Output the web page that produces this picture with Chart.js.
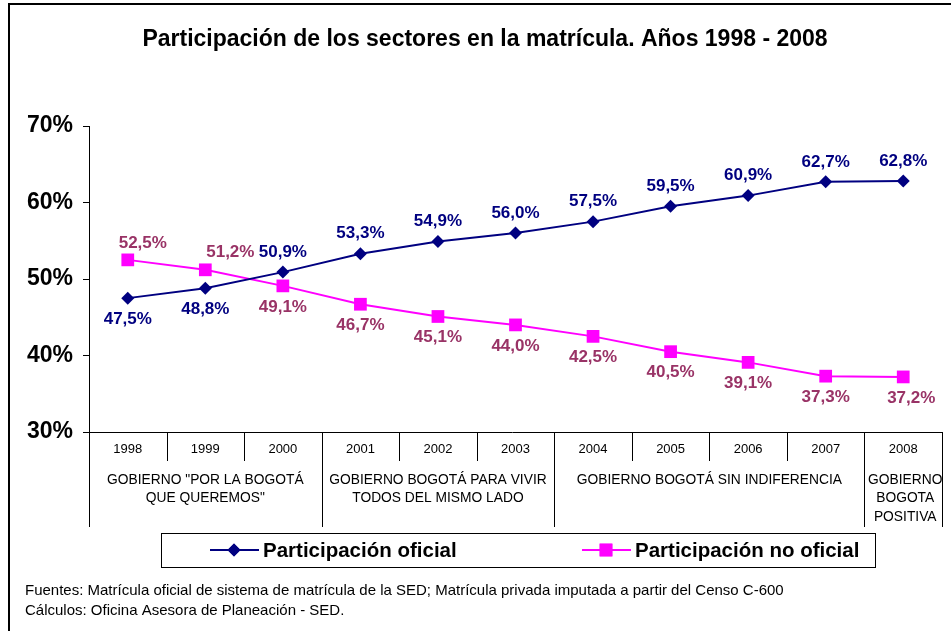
<!DOCTYPE html>
<html>
<head>
<meta charset="utf-8">
<script src="https://cdn.jsdelivr.net/npm/chart.js@4/dist/chart.umd.min.js"></script>
<style>
  body { margin: 0; background: #fff; }
  #wrap { width: 951px; height: 631px; }
</style>
</head>
<body>
<div id="wrap"><canvas id="chart" width="951" height="631"></canvas></div>
<script>
// Years on the x axis
let years = ["1998", "1999", "2000", "2001", "2002", "2003", "2004", "2005", "2006", "2007", "2008"];

// Government periods (label lines, first year index, last year index)
let governments = [
    { lines: ["GOBIERNO \"POR LA BOGOTÁ", "QUE QUEREMOS\""], from: 0, to: 2 },
    { lines: ["GOBIERNO BOGOTÁ PARA VIVIR", "TODOS DEL MISMO LADO"], from: 3, to: 5 },
    { lines: ["GOBIERNO BOGOTÁ SIN INDIFERENCIA"], from: 6, to: 9 },
    { lines: ["GOBIERNO", "BOGOTA", "POSITIVA"], from: 10, to: 10 }
];

// Share of enrolment, in percent
let oficial = [47.5, 48.8, 50.9, 53.3, 54.9, 56.0, 57.5, 59.5, 60.9, 62.7, 62.8];
let noOficial = [52.5, 51.2, 49.1, 46.7, 45.1, 44.0, 42.5, 40.5, 39.1, 37.3, 37.2];

let seriesNames = ["Participación oficial", "Participación no oficial"];

let titleText = "Participación de los sectores en la matrícula. Años 1998 - 2008";
let notes = [
    "Fuentes: Matrícula oficial de sistema de matrícula de la SED; Matrícula privada imputada a partir del Censo C-600",
    "Cálculos: Oficina Asesora de Planeación - SED."
];

const navy = "#000080";
const magenta = "#FF00FF";
const plum = "#993366";
const FONT = "Arial, 'Liberation Sans', sans-serif";

function fmt(v) {
    return v.toFixed(1).replace(".", ",") + "%";
}

// Draws everything Chart.js does not: title, labels, the grouped axis, legend and notes
const extras = {
    id: "extras",
    afterDraw(chart) {
        const ctx = chart.ctx;
        const area = chart.chartArea;
        const xs = chart.scales.x;
        ctx.save();

        // outer frame
        ctx.strokeStyle = "#000";
        ctx.lineWidth = 2;
        ctx.beginPath();
        ctx.moveTo(9, 640);
        ctx.lineTo(9, 4);
        ctx.lineTo(960, 4);
        ctx.stroke();

        // title
        ctx.fillStyle = "#000";
        ctx.font = "bold 23px " + FONT;
        ctx.textAlign = "center";
        ctx.textBaseline = "middle";
        ctx.fillText(titleText, 485, 40);

        // data labels
        ctx.font = "bold 17px " + FONT;
        const m0 = chart.getDatasetMeta(0).data;
        const m1 = chart.getDatasetMeta(1).data;
        for (let i = 0; i < oficial.length; i++) {
            ctx.fillStyle = navy;
            const p = m0[i];
            const dy = i < 2 ? 21 : -20;
            ctx.fillText(fmt(oficial[i]), p.x, p.y + dy);
        }
        for (let i = 0; i < noOficial.length; i++) {
            ctx.fillStyle = plum;
            const p = m1[i];
            let dx = 0, dy = 21;
            if (i == 0) { dx = 15; dy = -17; }
            if (i == 1) { dx = 25; dy = -18; }
            if (i == years.length - 1) { dx = 8; }
            ctx.fillText(fmt(noOficial[i]), p.x + dx, p.y + dy);
        }

        // category axis with the government groups
        const step = (area.right - area.left) / years.length;
        const base = area.bottom;
        ctx.strokeStyle = "#000";
        ctx.lineWidth = 1;
        ctx.beginPath();
        ctx.moveTo(area.left - 6, base + 0.5);
        ctx.lineTo(area.right, base + 0.5);
        ctx.stroke();

        ctx.fillStyle = "#000";
        ctx.font = "13px " + FONT;
        for (let i = 0; i <= years.length; i++) {
            const bx = Math.round(area.left + i * step) + 0.5;
            const isGroupEdge = governments.some(g => g.from == i) || i == years.length;
            ctx.beginPath();
            ctx.moveTo(bx, base);
            ctx.lineTo(bx, isGroupEdge ? base + 95 : base + 29);
            ctx.stroke();
        }
        for (let i = 0; i < years.length; i++) {
            ctx.fillText(years[i], xs.getPixelForValue(i), base + 17);
        }
        ctx.font = "13.8px " + FONT;
        governments.forEach(g => {
            const cx = area.left + (g.from + g.to + 1) / 2 * step;
            g.lines.forEach((line, k) => {
                ctx.fillText(line, cx + (g.lines.length > 2 ? 2 : 0), base + 48 + k * 18.5);
            });
        });

        // legend
        ctx.lineWidth = 1;
        ctx.strokeRect(161.5, 533.5, 714, 34);
        const ly = 550;
        const items = [
            { x: 210, color: navy, style: "rectRot", r: 6.5 },
            { x: 582, color: magenta, style: "rect", r: 9 }
        ];
        ctx.font = "bold 20.5px " + FONT;
        ctx.textAlign = "left";
        items.forEach((it, k) => {
            ctx.strokeStyle = it.color;
            ctx.lineWidth = 2;
            ctx.beginPath();
            ctx.moveTo(it.x, ly);
            ctx.lineTo(it.x + 49, ly);
            ctx.stroke();
            ctx.fillStyle = it.color;
            Chart.helpers.drawPoint(ctx, { pointStyle: it.style, radius: it.r, borderWidth: 0 }, it.x + 24, ly);
            ctx.fill();
            ctx.fillStyle = "#000";
            ctx.fillText(seriesNames[k], it.x + 53, ly + 1);
        });

        // source notes
        ctx.font = "15px " + FONT;
        ctx.fillText(notes[0], 25, 591);
        ctx.fillText(notes[1], 25, 611);

        ctx.restore();
    }
};

new Chart("chart", {
    type: "line",
    data: {
        labels: years,
        datasets: [{
            label: seriesNames[0],
            data: oficial,
            borderColor: navy,
            backgroundColor: navy,
            borderWidth: 2,
            pointStyle: "rectRot",
            pointRadius: 6.5,
            pointBorderWidth: 0,
        }, {
            label: seriesNames[1],
            data: noOficial,
            borderColor: magenta,
            backgroundColor: magenta,
            borderWidth: 2,
            pointStyle: "rect",
            pointRadius: 9,
            pointBorderWidth: 0,
        }]
    },
    options: {
        responsive: false,
        animation: false,
        devicePixelRatio: 1,
        layout: {
            padding: { top: 126, left: 0, right: 9, bottom: 199 }
        },
        plugins: {
            legend: { display: false },
            title: { display: false },
            tooltip: { enabled: false },
        },
        scales: {
            x: {
                display: false,
                offset: true,
            },
            y: {
                min: 30,
                max: 70,
                ticks: {
                    stepSize: 10,
                    padding: 10,
                    color: "#000",
                    font: { family: FONT, size: 23, weight: "bold" },
                    callback: v => v + "%",
                },
                grid: {
                    drawOnChartArea: false,
                    color: "#000",
                    tickLength: 6,
                },
                border: { color: "#000", width: 1 },
                afterFit: scale => { scale.width = 89; },
            }
        }
    },
    plugins: [extras]
});
</script>
</body>
</html>
